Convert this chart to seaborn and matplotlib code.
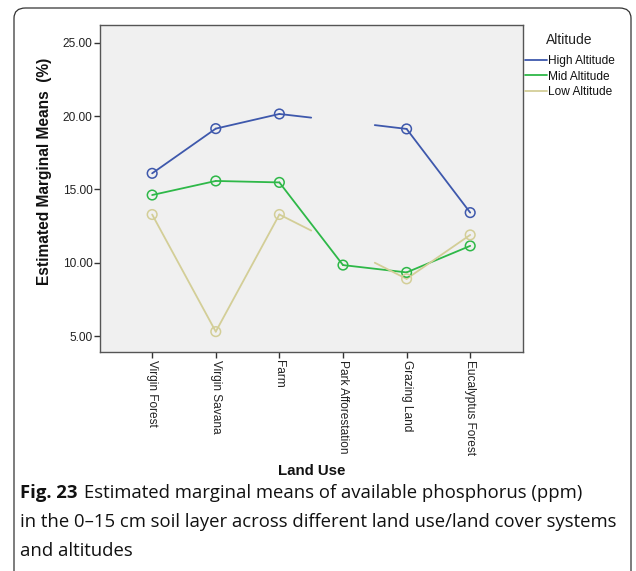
import numpy as np
import pandas as pd
import matplotlib
matplotlib.use("Agg")
import matplotlib.pyplot as plt
from matplotlib.lines import Line2D
from matplotlib.patches import FancyBboxPatch
import seaborn as sns

# ---------------- data ----------------
land_use = ["Virgin Forest", "Virgin Savana", "Farm", "Park Afforestation",
            "Grazing Land", "Eucalyptus Forest"]
altitudes = ["High Altitude", "Mid Altitude", "Low Altitude"]
high_vals = [16.10, 19.15, 20.15, 19.65, 19.13, 13.42]
mid_vals = [14.62, 15.58, 15.48, 9.84, 9.34, 11.15]
low_vals = [13.29, 5.30, 13.29, 11.10, 8.90, 11.90]
# non-estimable means (drawn only as half segments, no marker)
high_estimable = [True, True, True, False, True, True]
mid_estimable = [True, True, True, True, True, True]
low_estimable = [True, True, True, False, True, True]
y_ticks = [5.0, 10.0, 15.0, 20.0, 25.0]
colors = ["#3E58AC", "#2EB848", "#D3CE97"]

caption_bold = "Fig. 23"
caption_lines = [
    "Estimated marginal means of available phosphorus (ppm)",
    "in the 0\u201315 cm soil layer across different land use/land cover systems",
    "and altitudes",
]

# ---------------- build tables ----------------
series = {
    "High Altitude": (high_vals, high_estimable),
    "Mid Altitude": (mid_vals, mid_estimable),
    "Low Altitude": (low_vals, low_estimable),
}
seg_rows = []
pt_rows = []
for alt, (vals, est) in series.items():
    n = len(vals)
    seg_id = 0
    for i in range(n - 1):
        a, b = est[i], est[i + 1]
        x0, y0, x1, y1 = i, vals[i], i + 1, vals[i + 1]
        if a and b:
            pts = [(x0, y0), (x1, y1)]
        elif a and not b:
            pts = [(x0, y0), ((x0 + x1) / 2, (y0 + y1) / 2)]
        elif b and not a:
            pts = [((x0 + x1) / 2, (y0 + y1) / 2), (x1, y1)]
        else:
            continue
        for (px, py) in pts:
            seg_rows.append({"Altitude": alt, "seg": f"{alt}-{seg_id}", "x": px, "y": py})
        seg_id += 1
    for i in range(n):
        if est[i]:
            pt_rows.append({"Altitude": alt, "x": i, "y": vals[i]})
seg_df = pd.DataFrame(seg_rows)
pt_df = pd.DataFrame(pt_rows)
palette = dict(zip(altitudes, colors))

# ---------------- figure ----------------
sns.set_style("white")
plt.rcParams["font.family"] = ["Liberation Sans", "DejaVu Sans"]

W, H = 636, 571
fig = plt.figure(figsize=(W / 100, H / 100), dpi=100)
fig.patch.set_facecolor("white")

# rounded caption/figure box
box = FancyBboxPatch((14 / W, -20 / H), (631 - 14) / W, (H - 8 + 20) / H,
                     boxstyle="round,pad=0,rounding_size=0.018",
                     transform=fig.transFigure, facecolor="none",
                     edgecolor="#333333", linewidth=0.9, zorder=0)
fig.patches.append(box)

ax = fig.add_axes([100 / W, 1 - 352 / H, (523 - 100) / W, (352 - 25) / H])
ax.set_facecolor("#F0F0F0")

sns.lineplot(data=seg_df, x="x", y="y", hue="Altitude", units="seg",
             estimator=None, sort=False, palette=palette, linewidth=1.3,
             legend=False, ax=ax)
for alt in altitudes:
    sub = pt_df[pt_df["Altitude"] == alt]
    sns.scatterplot(data=sub, x="x", y="y", s=48, marker="o",
                    facecolors="none", edgecolor=palette[alt], linewidth=1.1,
                    legend=False, ax=ax, zorder=3)

ax.set_xlim(-0.82, 5.83)
ax.set_ylim(3.91, 26.22)
ax.set_yticks(y_ticks)
ax.set_yticklabels([f"{v:.2f}" for v in y_ticks])
ax.set_xticks(range(len(land_use)))
ax.set_xticklabels(land_use, rotation=270, va="top", ha="center")
ax.tick_params(axis="both", direction="out", length=4, width=1,
               color="#333333", labelsize=8.6, labelcolor="#222222", pad=1.5,
               left=True, bottom=True)
ax.set_xlabel("")
ax.set_ylabel("")
for sp in ax.spines.values():
    sp.set_visible(True)
    sp.set_color("#555555")
    sp.set_linewidth(1.0)

fig.text(45 / W, 1 - 171 / H, "Estimated Marginal Means  (%)", rotation=90,
         ha="center", va="center", fontsize=11.2, fontweight="bold", color="#111111")
fig.text(312 / W, 1 - 471 / H, "Land Use", ha="center", va="center",
         fontsize=10.8, fontweight="bold", color="#111111")

fig.text(569 / W, 1 - 40 / H, "Altitude", ha="center", va="center",
         fontsize=10, color="#222222")
handles = [Line2D([0], [0], color=c, linewidth=1.3) for c in colors]
leg = fig.legend(handles, altitudes, loc="upper left",
                 bbox_to_anchor=(525 / W, 1 - 55 / H), frameon=False,
                 fontsize=8.6, handlelength=1.8,
                 handletextpad=0.15, labelspacing=0.3, borderpad=0,
                 borderaxespad=0)
for t in leg.get_texts():
    t.set_color("#111111")

# caption
cap_font = ["Open Sans", "DejaVu Sans"]
renderer = fig.canvas.get_renderer()
probe = fig.text(0, 0, caption_lines[1], fontsize=12, family=cap_font)
w = probe.get_window_extent(renderer=renderer).width
probe.remove()
cap_size = 12 * 593 / w
line_y = [493, 522, 551]
tb = fig.text(20 / W, 1 - line_y[0] / H, caption_bold, fontsize=cap_size,
              fontweight="bold", family=cap_font, va="center", ha="left",
              color="#111111")
bx = tb.get_window_extent(renderer=renderer).x1
fig.text((bx + 7) / W, 1 - line_y[0] / H, caption_lines[0], fontsize=cap_size,
         family=cap_font, va="center", ha="left", color="#111111")
for txt, yy in zip(caption_lines[1:], line_y[1:]):
    fig.text(20 / W, 1 - yy / H, txt, fontsize=cap_size, family=cap_font,
             va="center", ha="left", color="#111111")

fig.savefig("out.png", dpi=100)
